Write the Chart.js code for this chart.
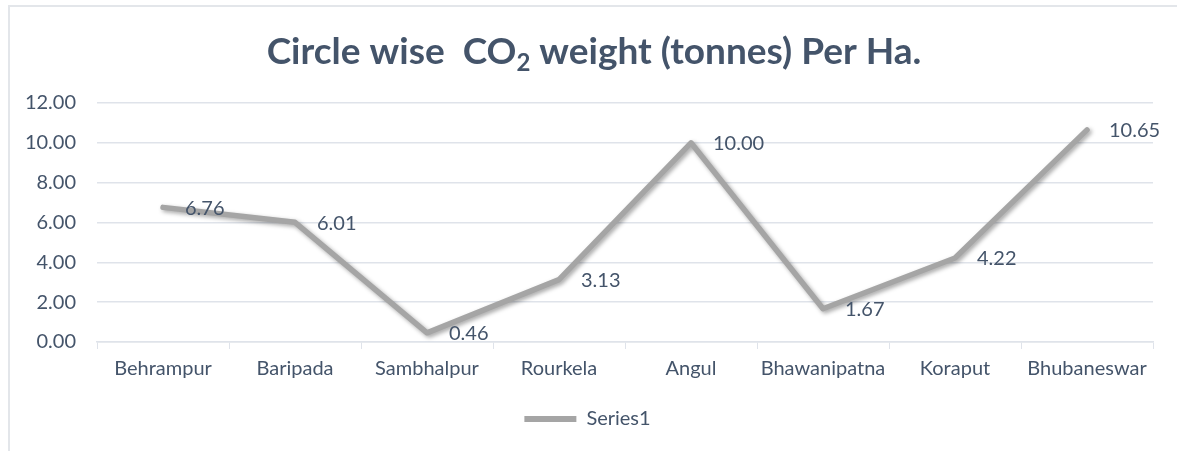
<!DOCTYPE html>
<html>
<head>
<meta charset="utf-8">
<script src="https://cdn.jsdelivr.net/npm/chart.js@4/dist/chart.umd.min.js"></script>
<style>
  html, body { margin: 0; padding: 0; background: #fff; overflow: hidden; }
  #wrap { position: relative; width: 1177px; height: 451px; }
  #frame { position: absolute; left: 8px; top: 5px; width: 1200px; height: 500px;
           border: 2px solid #e3e6ea; box-sizing: border-box; }
  canvas { position: absolute; left: 0; top: 0; }
</style>
</head>
<body>
<div id="wrap">
  <div id="frame"></div>
  <canvas id="chart" width="1177" height="451"></canvas>
</div>
<script>
  'use strict'

  // circles along the x axis
  const circles = ['Behrampur', 'Baripada', 'Sambhalpur', 'Rourkela', 'Angul', 'Bhawanipatna', 'Koraput', 'Bhubaneswar']
  // CO2 weight in tonnes per hectare
  const co2PerHa = [6.76, 6.01, 0.46, 3.13, 10.00, 1.67, 4.22, 10.65]
  const yTicks = [0, 2, 4, 6, 8, 10, 12]
  const seriesName = 'Series1'
  // title pieces: the "2" is drawn as a subscript
  const titleParts = [['Circle wise  CO', false], ['2', true], [' weight (tonnes) Per Ha.', false]]

  const textColor = '#44546a'
  const gridColor = '#dfe3ea'
  const lineColor = '#a5a5a5'
  const fontFamily = 'Lato, "Open Sans", sans-serif'
  const padLeft = 22

  // title with a real subscript, centred over the frame
  const subTitle = {
    id: 'subTitle',
    afterDraw(chart) {
      const ctx = chart.ctx
      const big = 'bold 37px ' + fontFamily
      const small = 'bold 24px ' + fontFamily
      ctx.save()
      ctx.fillStyle = textColor
      ctx.textBaseline = 'alphabetic'
      ctx.textAlign = 'left'
      let total = 0
      titleParts.forEach(([t, sub]) => {
        ctx.font = sub ? small : big
        total += ctx.measureText(t).width
      })
      let x = 594 - total / 2
      const base = 64
      titleParts.forEach(([t, sub]) => {
        ctx.font = sub ? small : big
        ctx.fillText(t, x, sub ? base + 7 : base)
        x += ctx.measureText(t).width
      })
      ctx.restore()
    }
  }

  // soft drop shadow under the line, like the office chart style
  const lineShadow = {
    id: 'lineShadow',
    beforeDatasetDraw(chart) {
      const ctx = chart.ctx
      ctx.save()
      ctx.shadowColor = 'rgba(0,0,0,0.35)'
      ctx.shadowBlur = 4
      ctx.shadowOffsetX = 2
      ctx.shadowOffsetY = 2
    },
    afterDatasetDraw(chart) {
      chart.ctx.restore()
    }
  }

  // value labels placed to the right of each point
  const valueLabels = {
    id: 'valueLabels',
    afterDatasetsDraw(chart) {
      const ctx = chart.ctx
      const meta = chart.getDatasetMeta(0)
      ctx.save()
      ctx.font = '20px ' + fontFamily
      ctx.fillStyle = textColor
      ctx.textAlign = 'left'
      ctx.textBaseline = 'middle'
      meta.data.forEach((pt, i) => {
        ctx.fillText(co2PerHa[i].toFixed(2), pt.x + 22, pt.y + 1)
      })
      ctx.restore()
    }
  }

  new Chart(document.getElementById('chart'), {
    type: 'line',
    data: {
      labels: circles,
      datasets: [{
        label: seriesName,
        data: co2PerHa,
        borderColor: lineColor,
        backgroundColor: lineColor,
        borderWidth: 5.5,
        borderCapStyle: 'round',
        borderJoinStyle: 'round',
        pointRadius: 0,
        tension: 0
      }]
    },
    options: {
      responsive: false,
      animation: false,
      layout: { padding: { left: padLeft, right: 24, top: 103, bottom: 12 } },
      plugins: {
        title: { display: false },
        legend: {
          position: 'bottom',
          labels: {
            color: textColor,
            font: { family: fontFamily, size: 20 },
            boxWidth: 52,
            boxHeight: 6,
            padding: 20,
            generateLabels(chart) {
              return [{
                text: seriesName,
                fillStyle: lineColor,
                strokeStyle: lineColor,
                lineWidth: 0,
                fontColor: textColor,
                datasetIndex: 0
              }]
            }
          }
        },
        tooltip: { enabled: false }
      },
      scales: {
        x: {
          offset: true,
          grid: { offset: true, drawOnChartArea: false, drawTicks: true, tickLength: 7, color: gridColor },
          border: { display: true, color: gridColor, width: 1.5 },
          ticks: { color: textColor, font: { family: fontFamily, size: 20 }, padding: 8, maxRotation: 0 }
        },
        y: {
          min: 0,
          max: 12,
          afterBuildTicks(scale) {
            scale.ticks = yTicks.map(v => ({ value: v }))
          },
          afterFit(scale) {
            // plot area starts at x = 97
            scale.width = 97 - padLeft
          },
          grid: { color: gridColor, lineWidth: 1.5, drawTicks: false },
          border: { display: false },
          ticks: {
            color: textColor,
            font: { family: fontFamily, size: 20 },
            padding: 21,
            callback: v => Number(v).toFixed(2)
          }
        }
      }
    },
    plugins: [lineShadow, valueLabels, subTitle]
  })
</script>
</body>
</html>
